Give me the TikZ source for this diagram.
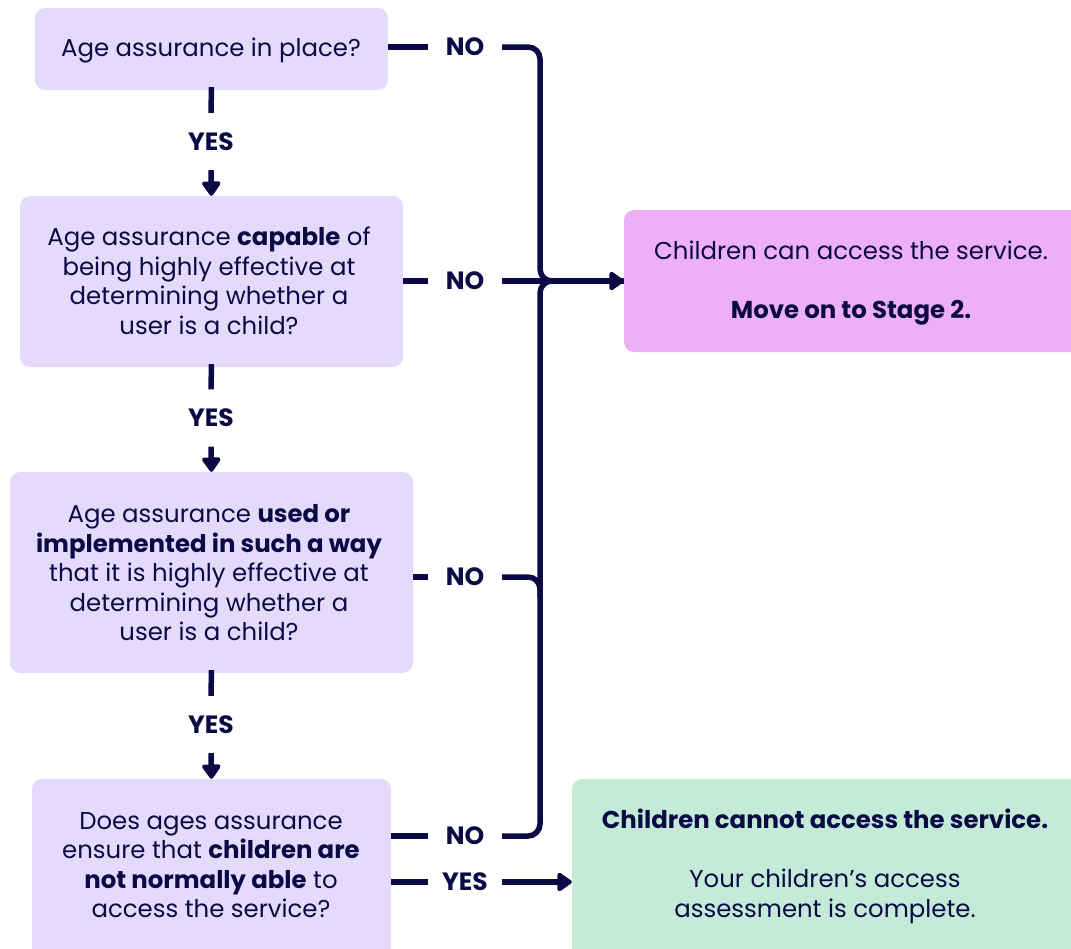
\documentclass[tikz,border=0pt]{standalone}
\usepackage{fontspec}
\setmainfont{Poppins}
\usetikzlibrary{arrows.meta}
\definecolor{navy}{HTML}{0B0A45}
\definecolor{lav}{HTML}{E4DBFC}
\definecolor{pinkbox}{HTML}{EDB0F7}
\definecolor{greenbox}{HTML}{C3EBD7}
\tikzset{
  qbox/.style={fill=lav, rounded corners=10pt, inner sep=0pt},
  txt/.style={align=center, text=navy, font=\fontsize{24.4}{29.5}\selectfont, inner sep=0pt},
  hlab/.style={text=navy, font=\fontsize{25}{26}\selectfont\bfseries, minimum width=74pt, inner sep=0pt},
  vlab/.style={text=navy, font=\fontsize{25}{26}\selectfont\bfseries, minimum height=57pt, inner sep=0pt},
  conn/.style={draw=navy, line width=5.5pt},
  arr/.style={conn, -{Triangle[length=16pt,width=21pt,round]}},
}
\begin{document}
\begin{tikzpicture}[x=1pt,y=-1pt]
\useasboundingbox (0,0) rectangle (1071,948);
\clip (0,0) rectangle (1071,948);
% question boxes
\node[qbox, minimum width=353pt, minimum height=82pt] (b1) at (211.5,49) {};
\node[qbox, minimum width=383pt, minimum height=171pt] (b2) at (211.5,281.5) {};
\node[qbox, minimum width=403pt, minimum height=201pt] (b3) at (211.5,572.5) {};
\node[qbox, minimum width=359pt, minimum height=190pt] (b4) at (211.5,874) {};
% outcome boxes
\node[fill=pinkbox, rounded corners=10pt, minimum width=476pt, minimum height=142pt, inner sep=0pt] (pink) at (862,281) {};
\node[fill=greenbox, rounded corners=10pt, minimum width=528pt, minimum height=190pt, inner sep=0pt] (green) at (836,874) {};
% texts
\node[txt] (t1) at (211,50.5) {Age assurance in place?};
\node[txt] (t2) at (209,281) {Age assurance \textbf{capable} of\\being highly effective at\\determining whether a\\user is a child?};
\node[txt] (t3) at (209,573) {Age assurance \textbf{used or}\\\textbf{implemented in such a way}\\that it is highly effective at\\determining whether a\\user is a child?};
\node[txt] (t4) at (211,865) {Does ages assurance\\ensure that \textbf{children are}\\\textbf{not normally able} to\\access the service?};
\node[txt] (tp) at (851,283) {Children can access the service.\\[30pt]\textbf{Move on to Stage 2.}};
\node[txt] (tg) at (825,866) {\textbf{Children cannot access the service.}\\[30pt]Your children’s access\\assessment is complete.};
% labels
\node[hlab] (no1) at (465,47) {NO};
\node[hlab] (no2) at (465,281) {NO};
\node[hlab] (no3) at (465,577) {NO};
\node[hlab] (no4) at (465,836) {NO};
\node[hlab] (yes5) at (465,882) {YES};
\node[vlab] (y1) at (211,141.5) {YES};
\node[vlab] (y2) at (211,418) {YES};
\node[vlab] (y3) at (211,724.5) {YES};
\coordinate (j) at (540,281);
% vertical YES connectors
\draw[conn] (b1.south) ++(0,-3) -- (y1.north);
\draw[arr] (y1.south) -- (b2.north);
\draw[conn] (b2.south) ++(0,-3) -- (y2.north);
\draw[arr] (y2.south) -- (b3.north);
\draw[conn] (b3.south) ++(0,-3) -- (y3.north);
\draw[arr] (y3.south) -- (b4.north);
% NO connectors
\draw[conn] (b1.east |- no1) -- (no1.west);
\draw[conn] (b2.east |- no2) -- (no2.west);
\draw[conn] (b3.east |- no3) -- (no3.west);
\draw[conn] (b4.east |- no4) -- (no4.west);
\draw[conn] (b4.east |- yes5) -- (yes5.west);
\draw[conn, rounded corners=12pt] (no1.east) -| (j) -- (no2.east -| pink.west);
\draw[conn, rounded corners=12pt] (no4.east) -| (j) -- (no2.east -| pink.west);
\draw[conn, rounded corners=12pt] (no3.east) -| ([yshift=-20pt]no3.east -| j);
\draw[arr] (no2.east) -- (no2.east -| pink.west);
\draw[arr] (yes5.east) -- (yes5.east -| green.west);
\end{tikzpicture}
\end{document}
